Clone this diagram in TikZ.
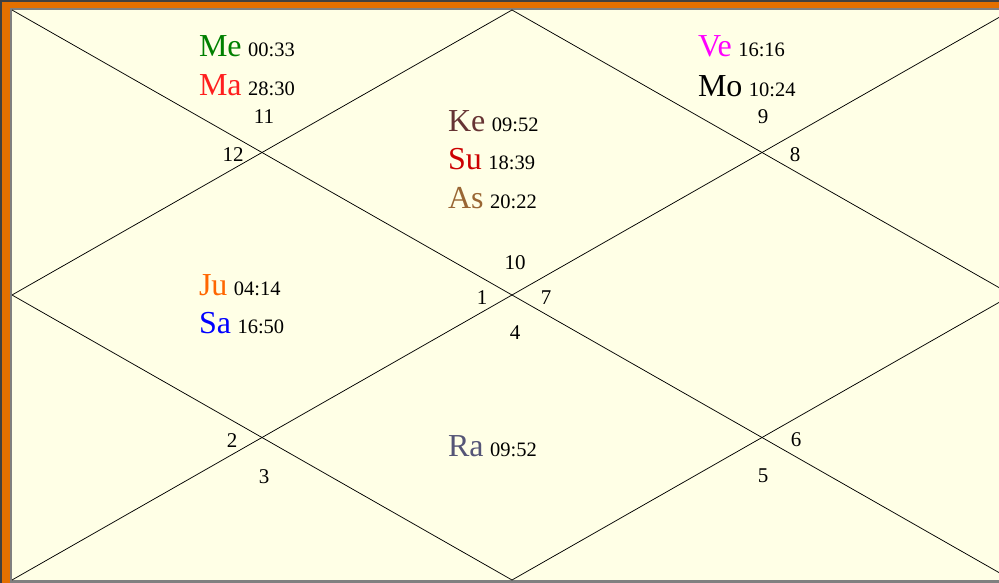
\documentclass[tikz,border=0pt]{standalone}
\usepackage{fontspec}
\setmainfont{Liberation Serif}
\definecolor{frameDark}{RGB}{64,64,64}
\definecolor{frameOrange}{RGB}{228,112,0}
\definecolor{frameGray}{RGB}{128,128,128}
\definecolor{cream}{RGB}{255,255,230}
\definecolor{cMe}{RGB}{0,128,0}
\definecolor{cMa}{RGB}{255,30,30}
\definecolor{cKe}{RGB}{102,51,51}
\definecolor{cSu}{RGB}{204,0,0}
\definecolor{cAs}{RGB}{153,102,51}
\definecolor{cVe}{RGB}{255,0,255}
\definecolor{cMo}{RGB}{0,0,0}
\definecolor{cJu}{RGB}{255,102,0}
\definecolor{cSa}{RGB}{0,0,255}
\definecolor{cRa}{RGB}{85,85,119}
\newcommand{\planet}[3]{{\color{#1}\fontsize{32}{32}\selectfont #2\hspace{6.5pt}}{\fontsize{20.5}{20.5}\selectfont #3}}
\tikzset{
  chartline/.style={draw=black, line width=0.75pt},
  ptext/.style={anchor=base west, inner sep=0pt, outer sep=0pt},
  hnum/.style={anchor=base, inner sep=0pt, font=\fontsize{21}{21}\selectfont}
}
\begin{document}
\begin{tikzpicture}[x=1pt,y=-1pt]
\useasboundingbox (0,0) rectangle (999,583);
\fill[frameDark] (0,0) rectangle (999,583);
\fill[frameOrange] (2,2) rectangle (999,583);
\fill[frameGray] (10,8) rectangle (999,583);
\fill[cream] (12,10) rectangle (999,580);
\coordinate (tl) at (12,10);
\coordinate (tr) at (1012,10);
\coordinate (bl) at (12,580);
\coordinate (br) at (1012,580);
\coordinate (tm) at (512,10);
\coordinate (bm) at (512,580);
\coordinate (lm) at (12,295);
\coordinate (rm) at (1012,295);
\begin{scope}
\clip (12,10) rectangle (999,580);
\draw[chartline] (tl) -- (br);
\draw[chartline] (bl) -- (tr);
\draw[chartline] (lm) -- (tm) -- (rm) -- (bm) -- cycle;
\end{scope}
% planets
\node[ptext] (me) at (199,57) {\planet{cMe}{Me}{00:33}};
\node[ptext] (ma) at (199,96) {\planet{cMa}{Ma}{28:30}};
\node[ptext] (ke) at (448,132) {\planet{cKe}{Ke}{09:52}};
\node[ptext] (su) at (448,170) {\planet{cSu}{Su}{18:39}};
\node[ptext] (as) at (448,208) {\planet{cAs}{As}{20:22}};
\node[ptext] (ve) at (698,57) {\planet{cVe}{Ve}{16:16}};
\node[ptext] (mo) at (698,97) {\planet{cMo}{Mo}{10:24}};
\node[ptext] (ju) at (199,295) {\planet{cJu}{Ju}{04:14}};
\node[ptext] (sa) at (199,333) {\planet{cSa}{Sa}{16:50}};
\node[ptext] (ra) at (448,456) {\planet{cRa}{Ra}{09:52}};
% house numbers
\node[hnum] (h11) at (264,124) {11};
\node[hnum] (h12) at (233,161) {12};
\node[hnum] (h9) at (763,124) {9};
\node[hnum] (h8) at (795,161) {8};
\node[hnum] (h10) at (515,269) {10};
\node[hnum] (h1) at (482,304) {1};
\node[hnum] (h7) at (546,304) {7};
\node[hnum] (h4) at (515,339) {4};
\node[hnum] (h2) at (232,447) {2};
\node[hnum] (h3) at (264,483) {3};
\node[hnum] (h6) at (796,446) {6};
\node[hnum] (h5) at (763,482) {5};
\end{tikzpicture}
\end{document}
